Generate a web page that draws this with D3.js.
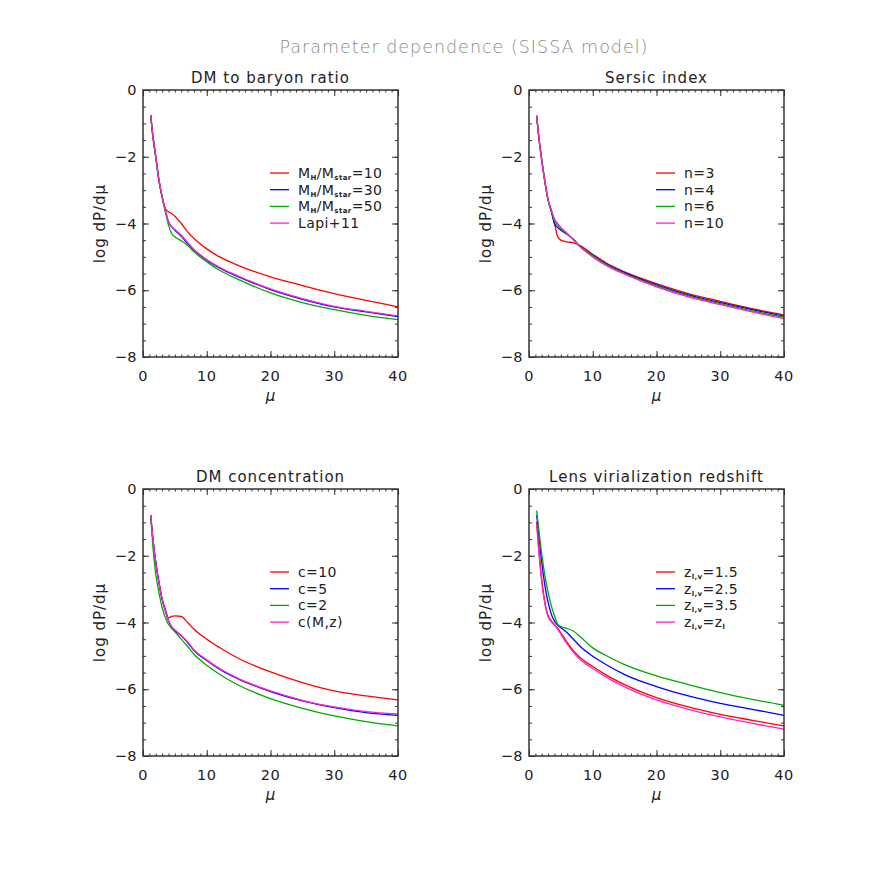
<!DOCTYPE html>
<html>
<head>
<meta charset="utf-8">
<script src="https://cdn.jsdelivr.net/npm/d3@7"></script>
<style>
  body { margin: 0; background: #fff; }
  text { font-family: "DejaVu Sans", sans-serif; fill: #222; }
</style>
</head>
<body>
<svg id="chart" width="872" height="872"></svg>
<script>
// ================ data ================
var mu = [1.2, 1.5, 2, 2.5, 3, 3.5, 4, 4.5, 5, 6, 7, 8, 10, 12, 15, 20, 25, 30, 35, 40];

var xTicks = [0, 10, 20, 30, 40];
var yTicks = [0, -2, -4, -6, -8];

// DM to baryon ratio
var ratio10 = [-0.75, -1.3, -2.0, -2.7, -3.2, -3.55, -3.65, -3.7, -3.78, -4.0, -4.25, -4.45, -4.76, -5.0, -5.26, -5.6, -5.86, -6.1, -6.3, -6.5];
var ratio30 = [-0.75, -1.3, -2.0, -2.7, -3.2, -3.6, -3.95, -4.1, -4.2, -4.38, -4.6, -4.8, -5.1, -5.33, -5.6, -5.98, -6.27, -6.5, -6.65, -6.79];
var ratio50 = [-0.75, -1.3, -2.0, -2.7, -3.2, -3.65, -4.05, -4.3, -4.4, -4.52, -4.66, -4.85, -5.15, -5.4, -5.68, -6.08, -6.37, -6.58, -6.75, -6.88];
var ratioLapi = [-0.75, -1.3, -2.0, -2.7, -3.2, -3.6, -3.95, -4.1, -4.18, -4.35, -4.57, -4.78, -5.08, -5.31, -5.58, -5.96, -6.25, -6.48, -6.63, -6.77];

// Sersic index
var sersic3 = [-0.77, -1.35, -2.1, -2.75, -3.3, -3.6, -4.0, -4.4, -4.5, -4.55, -4.58, -4.66, -4.92, -5.17, -5.45, -5.8, -6.1, -6.33, -6.55, -6.74];
var sersic4 = [-0.77, -1.35, -2.1, -2.75, -3.3, -3.65, -4.0, -4.12, -4.2, -4.33, -4.48, -4.68, -4.95, -5.2, -5.47, -5.84, -6.14, -6.37, -6.58, -6.78];
var sersic6 = [-0.77, -1.35, -2.1, -2.75, -3.3, -3.62, -3.92, -4.05, -4.15, -4.31, -4.49, -4.69, -4.97, -5.22, -5.5, -5.87, -6.17, -6.4, -6.62, -6.81];
var sersic10 = [-0.77, -1.35, -2.1, -2.75, -3.3, -3.6, -3.86, -4.0, -4.12, -4.3, -4.5, -4.7, -5.0, -5.25, -5.52, -5.9, -6.2, -6.43, -6.65, -6.85];

// DM concentration
var conc10 = [-0.78, -1.4, -2.2, -2.8, -3.3, -3.6, -3.86, -3.82, -3.8, -3.82, -4.0, -4.2, -4.5, -4.75, -5.08, -5.48, -5.8, -6.05, -6.2, -6.32];
var conc5 = [-0.78, -1.4, -2.2, -2.8, -3.3, -3.65, -3.95, -4.13, -4.24, -4.4, -4.6, -4.84, -5.14, -5.4, -5.7, -6.07, -6.35, -6.55, -6.7, -6.78];
var conc2 = [-0.8, -1.6, -2.55, -3.1, -3.55, -3.85, -4.06, -4.18, -4.28, -4.5, -4.72, -4.95, -5.28, -5.55, -5.88, -6.28, -6.57, -6.8, -6.97, -7.1];
var concMz = [-0.78, -1.4, -2.2, -2.8, -3.3, -3.65, -3.95, -4.12, -4.22, -4.38, -4.58, -4.82, -5.12, -5.38, -5.68, -6.05, -6.33, -6.53, -6.67, -6.74];

// Lens virialization redshift
var zvir15 = [-0.98, -1.7, -2.7, -3.4, -3.8, -3.95, -4.06, -4.18, -4.31, -4.6, -4.85, -5.05, -5.32, -5.56, -5.86, -6.25, -6.53, -6.75, -6.93, -7.1];
var zvir25 = [-0.78, -1.3, -2.2, -2.9, -3.4, -3.75, -3.96, -4.08, -4.16, -4.31, -4.51, -4.71, -5.01, -5.25, -5.56, -5.92, -6.2, -6.42, -6.6, -6.78];
var zvir35 = [-0.65, -1.15, -1.95, -2.6, -3.1, -3.5, -3.8, -4.05, -4.12, -4.18, -4.26, -4.42, -4.76, -4.98, -5.26, -5.6, -5.86, -6.1, -6.3, -6.48];
var zvirZl = [-1.05, -1.8, -2.8, -3.45, -3.83, -3.98, -4.08, -4.2, -4.35, -4.65, -4.9, -5.1, -5.38, -5.62, -5.93, -6.32, -6.6, -6.83, -7.02, -7.2];

var colors = ["#ff0000", "#0000ff", "#00aa00", "#ff22cc"];

// legend labels: [text, isSubscript] pieces
var ratioLabels = [
    [["M", 0], ["H", 1], ["/M", 0], ["star", 1], ["=10", 0]],
    [["M", 0], ["H", 1], ["/M", 0], ["star", 1], ["=30", 0]],
    [["M", 0], ["H", 1], ["/M", 0], ["star", 1], ["=50", 0]],
    [["Lapi+11", 0]]
];
var sersicLabels = [[["n=3", 0]], [["n=4", 0]], [["n=6", 0]], [["n=10", 0]]];
var concLabels = [[["c=10", 0]], [["c=5", 0]], [["c=2", 0]], [["c(M,z)", 0]]];
var zvirLabels = [
    [["z", 0], ["l,v", 1], ["=1.5", 0]],
    [["z", 0], ["l,v", 1], ["=2.5", 0]],
    [["z", 0], ["l,v", 1], ["=3.5", 0]],
    [["z", 0], ["l,v", 1], ["=z", 0], ["l", 1]]
];

var panels = [
    { title: "DM to baryon ratio", series: [ratio10, ratio30, ratio50, ratioLapi], labels: ratioLabels, left: 143, top: 90 },
    { title: "Sersic index", series: [sersic3, sersic4, sersic6, sersic10], labels: sersicLabels, left: 529, top: 90 },
    { title: "DM concentration", series: [conc10, conc5, conc2, concMz], labels: concLabels, left: 143, top: 489 },
    { title: "Lens virialization redshift", series: [zvir15, zvir25, zvir35, zvirZl], labels: zvirLabels, left: 529, top: 489 }
];

// ================ drawing ================
var W = 255;
var H = 267;
var svg = d3.select("#chart");

svg.append("text")
    .attr("x", 464)
    .attr("y", 53)
    .attr("text-anchor", "middle")
    .style("font-size", "17.5px")
    .style("font-weight", "200")
    .style("fill", "#8a8a8a")
    .style("letter-spacing", "1px")
    .text("Parameter dependence (SISSA model)");

panels.forEach(function(p) {
    var g = svg.append("g").attr("transform", "translate(" + p.left + "," + p.top + ")");

    var x = d3.scaleLinear().domain([0, 40]).range([0, W]);
    var y = d3.scaleLinear().domain([-8, 0]).range([H, 0]);

    var minorX = d3.range(0, 41, 1);
    var minorY = d3.range(-8, 0.01, 0.5);

    // inward ticks on all four sides
    var axes = [
        { a: d3.axisBottom(x).tickValues(minorX).tickSize(-2.5), t: "translate(0," + H + ")" },
        { a: d3.axisTop(x).tickValues(minorX).tickSize(-2.5), t: "translate(0,0)" },
        { a: d3.axisBottom(x).tickValues(xTicks).tickSize(-6), t: "translate(0," + H + ")" },
        { a: d3.axisTop(x).tickValues(xTicks).tickSize(-6), t: "translate(0,0)" },
        { a: d3.axisLeft(y).tickValues(minorY).tickSize(-3), t: "translate(0,0)" },
        { a: d3.axisRight(y).tickValues(minorY).tickSize(-3), t: "translate(" + W + ",0)" },
        { a: d3.axisLeft(y).tickValues(yTicks).tickSize(-6), t: "translate(0,0)" },
        { a: d3.axisRight(y).tickValues(yTicks).tickSize(-6), t: "translate(" + W + ",0)" }
    ];
    axes.forEach(function(ax) {
        var s = g.append("g").attr("transform", ax.t).call(ax.a.tickFormat(""));
        s.select(".domain").remove();
        s.selectAll("line").attr("stroke", "#333").attr("stroke-width", 1);
    });

    // tick labels
    g.selectAll(".xl").data(xTicks).enter().append("text")
        .attr("x", function(d) { return x(d); })
        .attr("y", H + 24)
        .attr("text-anchor", "middle")
        .style("font-size", "14.5px")
        .style("letter-spacing", "0.5px")
        .text(function(d) { return d; });

    g.selectAll(".yl").data(yTicks).enter().append("text")
        .attr("x", -6)
        .attr("y", function(d) { return y(d) + 5; })
        .attr("text-anchor", "end")
        .style("font-size", "14.5px")
        .style("letter-spacing", "0.5px")
        .text(function(d) { return d < 0 ? "\u2212" + (-d) : d; });

    // curves
    var line = d3.line()
        .x(function(d, i) { return x(mu[i]); })
        .y(function(d) { return y(d); })
        .curve(d3.curveMonotoneX);

    p.series.forEach(function(s, i) {
        g.append("path")
            .attr("d", line(s))
            .attr("fill", "none")
            .attr("stroke", colors[i])
            .attr("stroke-width", 1.3);
    });

    // frame
    g.append("rect")
        .attr("width", W)
        .attr("height", H)
        .attr("fill", "none")
        .attr("stroke", "#333")
        .attr("stroke-width", 1.5);

    // titles
    g.append("text")
        .attr("x", W / 2)
        .attr("y", -7)
        .attr("text-anchor", "middle")
        .style("font-size", "15px")
        .style("letter-spacing", "1px")
        .text(p.title);

    g.append("text")
        .attr("x", W / 2)
        .attr("y", H + 44)
        .attr("text-anchor", "middle")
        .style("font-size", "15px")
        .style("font-style", "italic")
        .text("\u03bc");

    g.append("text")
        .attr("transform", "translate(-38," + (H / 2) + ") rotate(-90)")
        .attr("text-anchor", "middle")
        .style("font-size", "15px")
        .style("letter-spacing", "1px")
        .text("log dP/d\u03bc");

    // legend
    var lg = g.append("g").attr("transform", "translate(127,83)");
    p.labels.forEach(function(lab, i) {
        var yy = i * 16.7;
        lg.append("line")
            .attr("x1", 0).attr("x2", 19)
            .attr("y1", yy).attr("y2", yy)
            .attr("stroke", colors[i])
            .attr("stroke-width", 1.3);
        var t = lg.append("text")
            .attr("x", 28)
            .attr("y", yy + 5)
            .style("font-size", "14px")
            .style("letter-spacing", "0.4px");
        lab.forEach(function(piece, k) {
            var ts = t.append("tspan").text(piece[0]);
            if (piece[1]) {
                ts.style("font-size", "7px").attr("dy", 2).style("font-weight", "bold");
            } else if (k > 0) {
                ts.attr("dy", -2);
            }
        });
    });
});
</script>
</body>
</html>
